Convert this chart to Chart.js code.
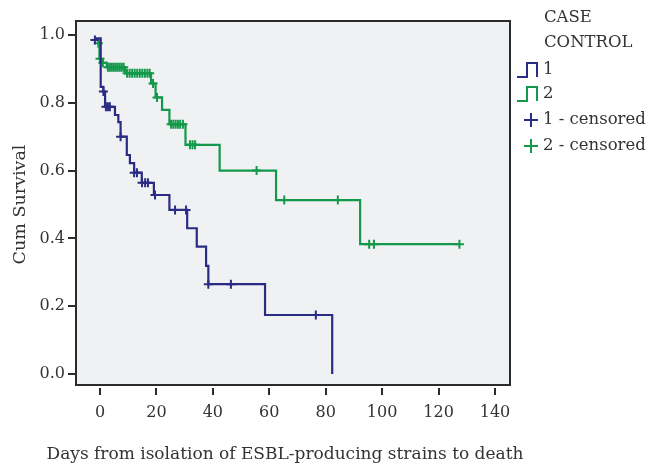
<!DOCTYPE html>
<html><head><meta charset="utf-8">
<script src="https://cdn.jsdelivr.net/npm/chart.js@4/dist/chart.umd.min.js"></script>
<style>html,body{margin:0;padding:0;background:#fff;}canvas{display:block;}</style>
</head><body>
<canvas id="c" width="650" height="467"></canvas>
<script>
// Kaplan-Meier step points (time in days, cumulative survival)
const caseTimes = [-2, 0.25, 1.2, 1.8, 5.3, 6.5, 7.3, 9.5, 10.6, 12.1, 14.8, 19.1, 24.6, 30.9, 34.3, 37.6, 38.4, 58.5, 82.3];
const caseSurv  = [0.99, 0.847, 0.833, 0.788, 0.764, 0.743, 0.700, 0.646, 0.622, 0.594, 0.564, 0.528, 0.484, 0.430, 0.376, 0.319, 0.265, 0.174, 0.0];
const controlTimes = [-1, -0.2, 1.0, 2.4, 8.9, 18.1, 19.7, 22.0, 24.6, 30.3, 42.4, 62.4, 92.2, 127.4];
const controlSurv  = [0.98, 0.93, 0.918, 0.905, 0.887, 0.857, 0.816, 0.779, 0.737, 0.676, 0.600, 0.513, 0.383, 0.383];
// censored observations
const caseCensTimes = [-1.8, 1.2, 2.1, 2.8, 3.5, 7.3, 12.1, 13.1, 14.9, 16.0, 17.0, 19.5, 26.6, 30.5, 38.4, 46.4, 76.5];
const caseCensSurv  = [0.985, 0.833, 0.788, 0.788, 0.788, 0.700, 0.594, 0.594, 0.564, 0.564, 0.564, 0.528, 0.484, 0.484, 0.265, 0.265, 0.174];
const controlCensTimes = [-0.6, 0.0, 1.0, 2.8, 3.5, 4.2, 4.9, 5.6, 6.3, 7.0, 7.7, 8.4, 9.6, 10.5, 11.4, 12.3, 13.2, 14.1, 15.0, 15.9, 16.8, 17.6, 18.8, 20.2, 25.2, 26.0, 26.8, 27.6, 28.4, 29.4, 31.9, 32.8, 33.7, 55.5, 65.3, 84.3, 95.4, 97.1, 127.4];
const controlCensSurv  = [0.976, 0.93, 0.918, 0.905, 0.905, 0.905, 0.905, 0.905, 0.905, 0.905, 0.905, 0.905, 0.887, 0.887, 0.887, 0.887, 0.887, 0.887, 0.887, 0.887, 0.887, 0.887, 0.857, 0.816, 0.737, 0.737, 0.737, 0.737, 0.737, 0.737, 0.676, 0.676, 0.676, 0.600, 0.513, 0.513, 0.383, 0.383, 0.383];

const xTicks = [0, 20, 40, 60, 80, 100, 120, 140];
const yTicks = [0.0, 0.2, 0.4, 0.6, 0.8, 1.0];
const legendTitle = ['CASE', 'CONTROL'];
const seriesNames = ['1', '2', '1 - censored', '2 - censored'];
const xTitle = 'Days from isolation of ESBL-producing strains to death';
const yTitle = 'Cum Survival';

const BLUE = '#2a2c84';
const GREEN = '#13994a';
const TEXT = '#333333';
const FONT = '"DejaVu Serif", serif';

function pts(xs, ys) { return xs.map((x, i) => ({ x: x, y: ys[i] })); }

const framePlugin = {
  id: 'frame',
  beforeDatasetsDraw(chart) {
    const a = chart.chartArea, ctx = chart.ctx;
    ctx.save();
    ctx.fillStyle = '#f0f1f3';
    ctx.fillRect(a.left, a.top, a.right - a.left, a.bottom - 3 - a.top);
    ctx.restore();
  },
  afterDraw(chart) {
    const a = chart.chartArea, ctx = chart.ctx;
    ctx.save();
    ctx.strokeStyle = '#2b2b2b';
    ctx.lineWidth = 2;
    ctx.strokeRect(a.left, a.top, a.right - a.left, a.bottom - 3 - a.top);
    // x axis title (drawn free of the scale width limit)
    ctx.font = '17px ' + FONT;
    ctx.fillStyle = TEXT;
    ctx.textBaseline = 'middle';
    ctx.textAlign = 'center';
    ctx.fillText(xTitle, 285, 455);
    // legend
    ctx.font = '16.5px ' + FONT;
    ctx.textAlign = 'left';
    ctx.fillText(legendTitle[0], 544, 18);
    ctx.fillText(legendTitle[1], 544, 43);
    const rows = [70, 94, 120, 146];
    const cols = [BLUE, GREEN, BLUE, GREEN];
    ctx.lineWidth = 2;
    for (let i = 0; i < 4; i++) {
      const y = rows[i];
      ctx.strokeStyle = cols[i];
      ctx.beginPath();
      if (i < 2) {
        ctx.moveTo(517, y + 7); ctx.lineTo(527, y + 7); ctx.lineTo(527, y - 7);
        ctx.lineTo(537, y - 7); ctx.lineTo(537, y + 7);
      } else {
        ctx.moveTo(524, y); ctx.lineTo(538, y);
        ctx.moveTo(531, y - 7); ctx.lineTo(531, y + 7);
      }
      ctx.stroke();
      ctx.fillStyle = TEXT;
      ctx.fillText(seriesNames[i], 543, y);
    }
    ctx.restore();
  }
};

new Chart(document.getElementById('c'), {
  type: 'line',
  data: {
    datasets: [
      { label: seriesNames[0], data: pts(caseTimes, caseSurv), stepped: true, borderColor: BLUE, borderWidth: 2.2, pointRadius: 0, fill: false },
      { label: seriesNames[1], data: pts(controlTimes, controlSurv), stepped: true, borderColor: GREEN, borderWidth: 2.2, pointRadius: 0, fill: false },
      { type: 'scatter', label: seriesNames[2], data: pts(caseCensTimes, caseCensSurv), pointStyle: 'cross', pointRadius: 4.5, borderColor: BLUE, backgroundColor: BLUE, borderWidth: 2, showLine: false },
      { type: 'scatter', label: seriesNames[3], data: pts(controlCensTimes, controlCensSurv), pointStyle: 'cross', pointRadius: 4.5, borderColor: GREEN, backgroundColor: GREEN, borderWidth: 2, showLine: false }
    ]
  },
  options: {
    responsive: false,
    animation: false,
    devicePixelRatio: 1,
    layout: { padding: { left: 0, right: 140, top: 21, bottom: 0 } },
    plugins: { legend: { display: false }, tooltip: { enabled: false } },
    scales: {
      x: {
        type: 'linear', min: -8.506, max: 145.32,
        afterBuildTicks(s) { s.ticks = xTicks.map(v => ({ value: v })); },
        afterFit(s) { s.height = 79; },
        border: { display: false },
        grid: { drawOnChartArea: false, drawTicks: true, tickLength: 7, color: '#2b2b2b', lineWidth: 2 },
        ticks: { color: TEXT, font: { family: FONT, size: 16 }, padding: 8, maxRotation: 0, autoSkip: false, callback: v => String(v) },
        title: { display: false }
      },
      y: {
        type: 'linear', min: -0.0413, max: 1.0413,
        afterBuildTicks(s) { s.ticks = yTicks.map(v => ({ value: v })); },
        afterFit(s) { s.width = 76; },
        border: { display: false },
        grid: { drawOnChartArea: false, drawTicks: true, tickLength: 8, color: '#2b2b2b', lineWidth: 2 },
        ticks: { color: TEXT, font: { family: FONT, size: 16 }, padding: 3, autoSkip: false, callback: v => Number(v).toFixed(1) },
        title: { display: true, text: yTitle, color: TEXT, font: { family: FONT, size: 17.5 }, padding: { top: 9.5, bottom: 0 } }
      }
    }
  },
  plugins: [framePlugin]
});
</script>
</body></html>
